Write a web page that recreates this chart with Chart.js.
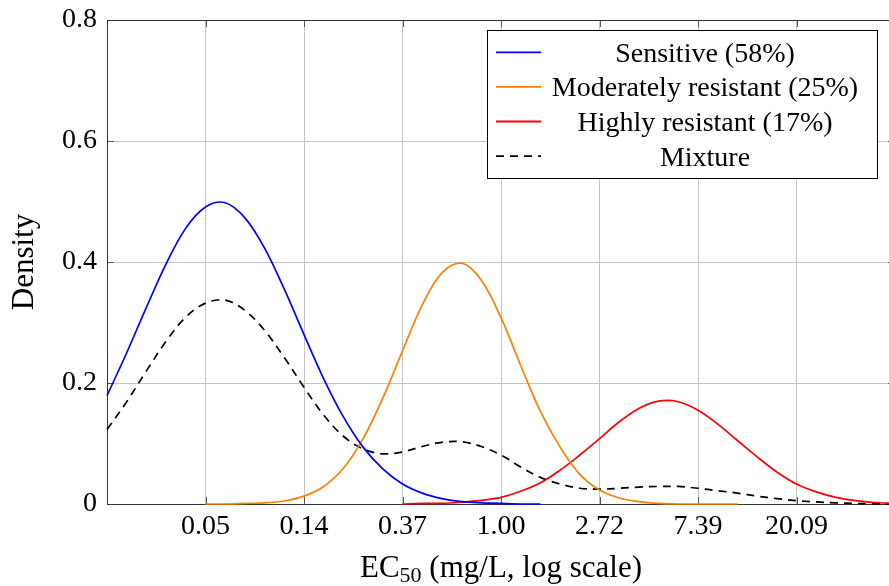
<!DOCTYPE html>
<html>

<head>
  <meta charset="utf-8">
  <title>EC50 density</title>
  <script src="https://cdn.jsdelivr.net/npm/chart.js@4.4.0/dist/chart.umd.min.js"></script>
  <style>
    html, body { margin: 0; padding: 0; overflow: hidden; background: #fff; }
  </style>
</head>

<body>
  <canvas id="myChart" width="900" height="586"></canvas>

  <script>
    // ln(EC50) positions the curves were read at
    var xValues = [-4.0, -3.8, -3.6, -3.4, -3.2, -3.0, -2.8, -2.6, -2.4, -2.2, -2.0, -1.8, -1.6, -1.4, -1.2, -1.0,
      -0.8, -0.6, -0.4, -0.2, 0.0, 0.2, 0.4, 0.6, 0.8, 1.0, 1.2, 1.4, 1.6, 1.8, 2.0, 2.2, 2.4, 2.6, 2.8, 3.0,
      3.2, 3.4, 3.6, 3.8, 4.0];

    var sensitive = [0.179, 0.250, 0.325, 0.397, 0.456, 0.491, 0.498, 0.473, 0.423, 0.355, 0.280, 0.207, 0.144,
      0.094, 0.058, 0.033, 0.018, 0.009, 0.004, 0.002, 0.001, 0.000, 0.000,
      null, null, null, null, null, null, null, null, null, null, null, null, null, null, null, null, null, null];

    var moderate = [null, null, null, null, null,
      0.000, 0.000, 0.001, 0.002, 0.005, 0.013, 0.029, 0.059, 0.108, 0.175, 0.253, 0.329, 0.382, 0.398, 0.370,
      0.308, 0.229, 0.153, 0.094, 0.049, 0.023, 0.010, 0.004, 0.001, 0.000, 0.000, 0.000, 0.000,
      null, null, null, null, null, null, null, null];

    var highly = [null, null, null, null, null, null, null, null, null, null, null, null, null, null, null,
      0.000, 0.001, 0.001, 0.003, 0.006, 0.011, 0.021, 0.035, 0.056, 0.081, 0.108, 0.136, 0.158, 0.170, 0.169,
      0.155, 0.132, 0.105, 0.078, 0.053, 0.033, 0.020, 0.011, 0.0055, 0.0025, 0.001];

    var mixture = [0.123, 0.169, 0.220, 0.269, 0.309, 0.332, 0.337, 0.320, 0.287, 0.242, 0.193, 0.147, 0.112,
      0.091, 0.083, 0.086, 0.095, 0.102, 0.103, 0.095, 0.081, 0.061, 0.044, 0.033, 0.026, 0.0245, 0.026, 0.028,
      0.029, 0.029, 0.026, 0.022, 0.018, 0.013, 0.009, 0.0056, 0.0034, 0.0019, 0.0009, 0.0004, 0.0002];

    var seriesLabels = ['Sensitive (58%)', 'Moderately resistant (25%)', 'Highly resistant (17%)', 'Mixture'];
    var seriesColors = ['#0000ff', '#ff8000', '#ff0000', '#000000'];

    var xTickPos = [-3, -2, -1, 0, 1, 2, 3];
    var xTickLabels = ['0.05', '0.14', '0.37', '1.00', '2.72', '7.39', '20.09'];
    var yTickPos = [0, 0.2, 0.4, 0.6, 0.8];
    var yTickLabels = ['0', '0.2', '0.4', '0.6', '0.8'];

    var FONT = 'Liberation Serif';

    function toPoints(arr) {
      var pts = [];
      arr.forEach((y, i) => {
        if (y !== null) pts.push({ x: xValues[i], y: y });
      });
      return pts;
    }

    function makeDataset(i, arr) {
      return {
        label: seriesLabels[i],
        data: toPoints(arr),
        borderColor: seriesColors[i],
        borderWidth: 1.7,
        borderDash: i == 3 ? [8, 6] : [],
        pointRadius: 0,
        tension: 0.35,
        fill: false,
        clip: false
      };
    }

    // no extra room for the end labels, the plot box is fixed
    function noMargins(s) {
      s.paddingTop = 0; s.paddingBottom = 0;
      s.paddingLeft = 0; s.paddingRight = 0;
    }

    // frame, inner ticks, legend box and axis titles
    const decorPlugin = {
      id: 'decor',
      beforeDatasetsDraw(chart) {
        const a = chart.chartArea, ctx = chart.ctx;
        const xs = chart.scales.x, ys = chart.scales.y;
        ctx.save();
        ctx.strokeStyle = '#555';
        ctx.lineWidth = 1;
        ctx.beginPath();
        xTickPos.forEach(v => {
          var px = Math.round(xs.getPixelForValue(v)) + 0.5;
          ctx.moveTo(px, a.bottom); ctx.lineTo(px, a.bottom - 7);
          ctx.moveTo(px, a.top); ctx.lineTo(px, a.top + 7);
        });
        yTickPos.forEach(v => {
          var py = Math.round(ys.getPixelForValue(v)) + 0.5;
          ctx.moveTo(a.left, py); ctx.lineTo(a.left + 7, py);
          ctx.moveTo(a.right, py); ctx.lineTo(a.right - 7, py);
        });
        ctx.stroke();
        ctx.strokeStyle = '#333';
        ctx.strokeRect(a.left + 0.5, a.top + 0.5, a.right - a.left, a.bottom - a.top);
        ctx.restore();
      },
      afterDraw(chart) {
        const ctx = chart.ctx;
        ctx.save();
        // legend
        var bx = 487, by = 30, bw = 390, bh = 148;
        ctx.fillStyle = '#fff';
        ctx.fillRect(bx, by, bw, bh);
        ctx.strokeStyle = '#000';
        ctx.lineWidth = 1;
        ctx.strokeRect(bx + 0.5, by + 0.5, bw, bh);
        ctx.font = '28px "' + FONT + '"';
        ctx.textAlign = 'center';
        ctx.textBaseline = 'alphabetic';
        seriesLabels.forEach((lab, i) => {
          var ry = 52.3 + i * 34.6;
          ctx.strokeStyle = seriesColors[i];
          ctx.lineWidth = 1.8;
          ctx.setLineDash(i == 3 ? [8, 6] : []);
          ctx.beginPath();
          ctx.moveTo(496, ry); ctx.lineTo(541, ry);
          ctx.stroke();
          ctx.setLineDash([]);
          ctx.fillStyle = '#000';
          ctx.fillText(lab, 705, ry + 9.5);
        });

        // y axis title
        ctx.save();
        ctx.font = '31px "' + FONT + '"';
        ctx.translate(33, 262);
        ctx.rotate(-Math.PI / 2);
        ctx.textAlign = 'center';
        ctx.fillText('Density', 0, 0);
        ctx.restore();

        // x axis title with subscript
        var p1 = 'EC', p2 = '50', p3 = ' (mg/L, log scale)';
        ctx.textAlign = 'left';
        ctx.font = '31px "' + FONT + '"';
        var w1 = ctx.measureText(p1).width, w3 = ctx.measureText(p3).width;
        ctx.font = '22px "' + FONT + '"';
        var w2 = ctx.measureText(p2).width;
        var x0 = 501 - (w1 + w2 + w3) / 2, base = 577;
        ctx.font = '31px "' + FONT + '"';
        ctx.fillText(p1, x0, base);
        ctx.font = '22px "' + FONT + '"';
        ctx.fillText(p2, x0 + w1, base + 5);
        ctx.font = '31px "' + FONT + '"';
        ctx.fillText(p3, x0 + w1 + w2, base);
        ctx.restore();
      }
    };

    const ctx = document.getElementById('myChart').getContext('2d');
    const myChart = new Chart(ctx, {
      type: 'line',
      data: {
        datasets: [
          makeDataset(0, sensitive),
          makeDataset(1, moderate),
          makeDataset(2, highly),
          makeDataset(3, mixture)
        ]
      },
      options: {
        responsive: false,
        animation: false,
        devicePixelRatio: 1,
        layout: { padding: { left: 0, top: 20, right: 5, bottom: 0 } },
        plugins: { legend: { display: false }, tooltip: { enabled: false } },
        scales: {
          x: {
            type: 'linear',
            min: -4,
            max: 4,
            afterFit: function (s) { s.height = 82; noMargins(s); },
            afterBuildTicks: function (s) { s.ticks = xTickPos.map(v => ({ value: v })); },
            ticks: {
              callback: function (v, i) { return xTickLabels[i]; },
              font: { family: FONT, size: 28 },
              color: '#000',
              padding: 6,
              maxRotation: 0,
              autoSkip: false
            },
            grid: { color: '#c4c4c4', drawTicks: false },
            border: { display: false }
          },
          y: {
            min: 0,
            max: 0.8,
            afterFit: function (s) { s.width = 107; noMargins(s); },
            afterBuildTicks: function (s) { s.ticks = yTickPos.map(v => ({ value: v })); },
            ticks: {
              callback: function (v, i) { return yTickLabels[i]; },
              font: { family: FONT, size: 28 },
              color: '#000',
              padding: 10
            },
            grid: { color: '#c4c4c4', drawTicks: false },
            border: { display: false }
          }
        }
      },
      plugins: [decorPlugin]
    });
  </script>
</body>

</html>
